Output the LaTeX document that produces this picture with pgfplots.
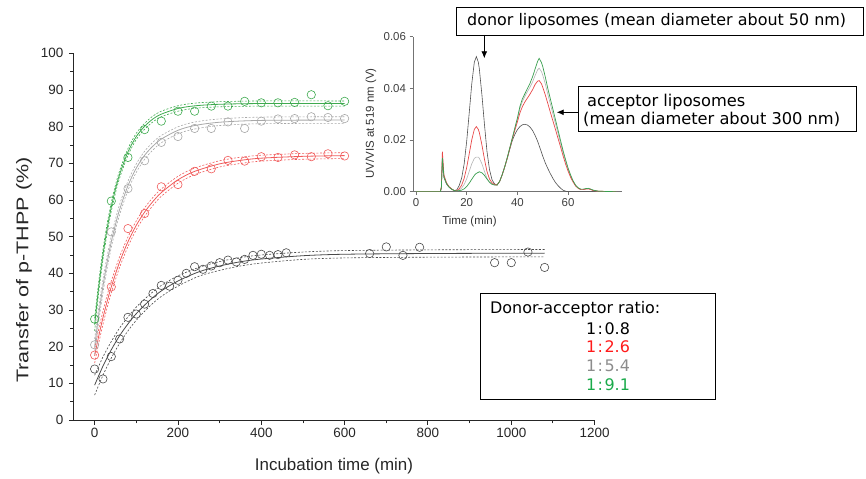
\documentclass[border=0pt]{standalone}
\usepackage{fontspec}
\setmainfont{Liberation Sans}
\newfontfamily\verd{DejaVu Sans}
\usepackage{pgfplots}
\pgfplotsset{compat=1.18}
\usepackage{pgfplotstable}
\usetikzlibrary{arrows.meta}

\definecolor{cbk}{HTML}{4A4A4A}
\definecolor{crd}{HTML}{F05A5A}
\definecolor{cgy}{HTML}{A8A8A8}
\definecolor{cgn}{HTML}{3DAA4E}
\definecolor{ibk}{HTML}{505050}
\definecolor{ird}{HTML}{E84848}
\definecolor{igy}{HTML}{B4B4B4}
\definecolor{ign}{HTML}{3A9F50}
\definecolor{lrd}{HTML}{FF1A1A}
\definecolor{lgy}{HTML}{8C8C8C}
\definecolor{lgn}{HTML}{1AAA4A}

% measured points
\pgfplotstableread{
t y
0 13.9
20 11.2
40 17.3
60 22.1
80 28.0
100 28.9
120 31.6
140 34.5
160 36.7
180 36.5
200 38.1
220 40.0
240 41.8
260 41.1
280 42.0
300 42.9
320 43.6
340 43.1
360 43.8
380 44.9
400 45.2
420 44.9
440 45.1
460 45.6
660 45.4
700 47.2
740 44.9
780 47.1
960 42.9
1000 42.9
1040 45.8
1080 41.6
}\bkdata
\pgfplotstableread{
t y
0 17.7
40 36.3
80 52.2
120 56.3
160 63.6
200 64.2
240 67.8
280 68.5
320 70.8
360 70.6
400 71.8
440 71.6
480 72.3
520 71.8
560 72.6
600 72.0
}\rddata
\pgfplotstableread{
t y
0 20.5
40 51.3
80 63.1
120 70.7
160 75.7
200 77.3
240 79.5
280 79.5
320 81.3
360 79.5
400 81.5
440 82.1
480 82.2
520 82.7
560 82.5
600 82.2
}\gydata
\pgfplotstableread{
t y
0 27.5
40 59.7
80 71.6
120 79.2
160 81.5
200 84.2
240 84.2
280 85.6
320 85.6
360 86.9
400 86.5
440 86.5
480 86.6
520 88.7
560 85.7
600 86.9
}\gndata

% fitted curves with confidence band
\pgfplotstableread{
t fit lo hi
0 9.5 6.8 12.2
20 14.7 12.2 17.2
40 19.15 16.9 21.4
60 23.0 20.9 25.1
80 26.2 24.3 28.1
100 29.0 27.2 30.8
130 32.4 30.8 34.0
160 35.2 33.7 36.7
200 37.9 36.5 39.3
250 40.4 39.2 41.6
300 42.0 40.8 43.2
350 43.15 42.0 44.3
400 43.9 42.8 45.0
500 44.8 43.8 45.8
600 45.2 44.2 46.2
800 45.4 44.4 46.4
1080 45.5 44.5 46.5
}\bkfit
\pgfplotstableread{
t fit lo hi
0 17.5 15.5 19.5
10 22.95 21.05 24.85
20 27.9 26.1 29.7
30 32.3 30.6 34.0
40 36.3 34.7 37.9
60 43.1 41.65 44.55
80 48.6 47.3 49.9
100 53.1 51.9 54.3
120 56.7 55.55 57.85
140 59.6 58.5 60.7
160 62.0 61.0 63.0
200 65.5 64.55 66.45
240 67.8 66.9 68.7
300 69.85 69.0 70.7
350 70.8 69.95 71.65
400 71.4 70.6 72.2
500 71.9 71.1 72.7
600 72.1 71.3 72.9
}\rdfit
\pgfplotstableread{
t fit lo hi
0 20.0 17.9 22.1
10 28.9 27.0 30.8
20 36.5 34.7 38.3
30 43.0 41.35 44.65
40 48.6 47.05 50.15
50 53.3 51.85 54.75
60 57.4 56.0 58.8
80 63.9 62.65 65.15
100 68.7 67.55 69.85
120 72.2 71.1 73.3
140 74.7 73.65 75.75
160 76.6 75.6 77.6
200 79.0 78.05 79.95
240 80.3 79.35 81.25
300 81.2 80.3 82.1
400 81.7 80.8 82.6
600 81.8 80.9 82.7
}\gyfit
\pgfplotstableread{
t fit lo hi
0 26.0 24.3 27.7
10 36.4 34.9 37.9
20 45.1 43.7 46.5
30 52.2 50.9 53.5
40 58.1 56.9 59.3
50 63.0 61.9 64.1
60 67.0 66.0 68.0
80 73.1 72.2 74.0
100 77.3 76.5 78.2
120 80.1 79.3 80.9
140 82.1 81.3 82.9
160 83.4 82.7 84.2
200 84.95 84.2 85.7
240 85.67 85.0 86.4
300 86.1 85.4 86.8
400 86.3 85.6 87.0
600 86.3 85.6 87.0
}\gnfit

% chromatograms (inset)
\pgfplotstableread{
x bk rd gy gn
0 0 0 0 0
9.6 0 0 0 0
10 0.0015 0.0020 0.0018 0.0016
10.4 0.0120 0.0155 0.0140 0.0130
11 0.0055 0.0065 0.0060 0.0058
12 0.0030 0.0035 0.0033 0.0032
13 0.0018 0.0020 0.0019 0.0018
14 0.0010 0.0011 0.0010 0.0010
15 0.0005 0.0005 0.0005 0.0005
16 0.0006 0.0004 0.0003 0.0003
17 0.0023 0.0011 0.0006 0.0004
18 0.0052 0.0025 0.0014 0.0006
19 0.0108 0.0052 0.0028 0.0011
20 0.0196 0.0094 0.0050 0.0020
21 0.0306 0.0147 0.0079 0.0033
22 0.0418 0.0201 0.0108 0.0048
23 0.0501 0.0241 0.0129 0.0063
23.8 0.0523 0.0252 0.0134 0.0071
24.6 0.0501 0.0241 0.0134 0.0075
25 0.0474 0.0228 0.0129 0.0077
26 0.0375 0.0181 0.0108 0.0073
27 0.0261 0.0126 0.0079 0.0063
28 0.0156 0.0078 0.0052 0.0049
29 0.0085 0.0049 0.0035 0.0037
30 0.0046 0.0034 0.0028 0.0029
31 0.0030 0.0028 0.0026 0.0026
32 0.0026 0.0026 0.0026 0.0026
33 0.0040 0.0040 0.0040 0.0040
34 0.0065 0.0065 0.0065 0.0066
35 0.0095 0.0096 0.0096 0.0097
36 0.0128 0.0130 0.0131 0.0132
37 0.0164 0.0168 0.0169 0.0170
38 0.0198 0.0205 0.0207 0.0208
39 0.0222 0.0238 0.0244 0.0247
40 0.0240 0.0270 0.0280 0.0285
41 0.0252 0.0305 0.0322 0.0330
42 0.0259 0.0330 0.0350 0.0360
43 0.0261 0.0348 0.0370 0.0380
44 0.0258 0.0363 0.0388 0.0400
45 0.0250 0.0378 0.0405 0.0420
46 0.0237 0.0395 0.0425 0.0445
47 0.0218 0.0415 0.0450 0.0475
48 0.0195 0.0428 0.0472 0.0505
48.6 0.0178 0.0430 0.0478 0.0516
49.5 0.0153 0.0418 0.0465 0.0500
50 0.0138 0.0405 0.0452 0.0485
51 0.0112 0.0375 0.0418 0.0445
52 0.0090 0.0342 0.0378 0.0400
53 0.0070 0.0308 0.0340 0.0360
54 0.0052 0.0275 0.0302 0.0320
55 0.0036 0.0242 0.0265 0.0280
56 0.0024 0.0208 0.0228 0.0240
57 0.0014 0.0175 0.0190 0.0200
58 0.0006 0.0140 0.0152 0.0160
59 0.0002 0.0108 0.0118 0.0125
60 0 0.0080 0.0087 0.0092
61 0 0.0056 0.0061 0.0065
62 0 0.0037 0.0040 0.0042
63 0 0.0022 0.0024 0.0025
64 0 0.0013 0.0014 0.0015
65 0 0.0008 0.0009 0.0010
66 0 0.0008 0.0009 0.0010
67 0 0.0010 0.0011 0.0012
68 0 0.0011 0.0012 0.0013
69 0 0.0008 0.0009 0.0010
70 0 0.0004 0.0005 0.0006
72 0 0.0002 0.0002 0.0002
75 0 0.0001 0.0001 0.0001
79 0 0 0 0
}\chrom

\newcommand\rat[2]{#1\kern1.5bp:\kern1.5bp#2}

\begin{document}
\begin{tikzpicture}
\path[use as bounding box] (0,0) rectangle (866bp,479bp);

\begin{axis}[
  at={(73.8bp,59bp)}, anchor=south west, scale only axis,
  width=520.8bp, height=366.7bp,
  xmin=-50, xmax=1200, ymin=0, ymax=100,
  axis lines=left, axis line style={-, line width=0.9bp, black!85},
  xtick={0,200,...,1200}, ytick={0,10,...,100},
  minor x tick num=1, minor y tick num=1,
  tick align=outside, major tick length=5bp, minor tick length=3.5bp,
  every tick/.style={line width=0.9bp, black!85},
  tick label style={font=\fontsize{13.5}{14}\selectfont, text=black!85},
  yticklabel style={xshift=-2bp},
  /pgf/number format/assume math mode=true,
  /pgf/number format/1000 sep={},
  xlabel={Incubation time (min)},
  ylabel={\scalebox{1.27}[1]{Transfer of p-THPP (\%)}},
  xlabel style={font=\fontsize{17}{17}\selectfont, text=black!85, at={(axis description cs:0.4996,-0.125)}, anchor=center},
  ylabel style={font=\fontsize{17}{17}\selectfont, text=black!85, at={(axis description cs:-0.0956,0.409)}, anchor=center},
  clip=false,
]
% black
\addplot[cbk, dash pattern=on 2bp off 1.6bp, line width=0.6bp, smooth] table[x=t,y=lo]{\bkfit};
\addplot[cbk, dash pattern=on 2bp off 1.6bp, line width=0.6bp, smooth] table[x=t,y=hi]{\bkfit};
\addplot[cbk, line width=0.8bp, smooth] table[x=t,y=fit]{\bkfit};
\addplot[cbk, only marks, mark=o, mark size=4.2, mark options={line width=0.6bp}] table[x=t,y=y]{\bkdata};
% red
\addplot[crd, dash pattern=on 2bp off 1.6bp, line width=0.6bp, smooth] table[x=t,y=lo]{\rdfit};
\addplot[crd, dash pattern=on 2bp off 1.6bp, line width=0.6bp, smooth] table[x=t,y=hi]{\rdfit};
\addplot[crd, line width=0.8bp, smooth] table[x=t,y=fit]{\rdfit};
\addplot[crd, only marks, mark=o, mark size=4.2, mark options={line width=0.6bp}] table[x=t,y=y]{\rddata};
% grey
\addplot[cgy, dash pattern=on 2bp off 1.6bp, line width=0.6bp, smooth] table[x=t,y=lo]{\gyfit};
\addplot[cgy, dash pattern=on 2bp off 1.6bp, line width=0.6bp, smooth] table[x=t,y=hi]{\gyfit};
\addplot[cgy, line width=0.8bp, smooth] table[x=t,y=fit]{\gyfit};
\addplot[cgy, only marks, mark=o, mark size=4.2, mark options={line width=0.6bp}] table[x=t,y=y]{\gydata};
% green
\addplot[cgn, dash pattern=on 2bp off 1.6bp, line width=0.6bp, smooth] table[x=t,y=lo]{\gnfit};
\addplot[cgn, dash pattern=on 2bp off 1.6bp, line width=0.6bp, smooth] table[x=t,y=hi]{\gnfit};
\addplot[cgn, line width=0.8bp, smooth] table[x=t,y=fit]{\gnfit};
\addplot[cgn, only marks, mark=o, mark size=4.2, mark options={line width=0.6bp}] table[x=t,y=y]{\gndata};
\end{axis}

\begin{axis}[
  at={(413bp,287.3bp)}, anchor=south west, scale only axis,
  width=209bp, height=155bp,
  xmin=-1.2, xmax=81.3, ymin=0, ymax=0.06,
  axis lines=left, axis line style={-, line width=0.6bp, black!55},
  xtick={0,20,40,60}, ytick={0,0.02,0.04,0.06},
  scaled y ticks=false,
  yticklabel style={/pgf/number format/.cd, fixed, fixed zerofill, precision=2},
  tick align=outside, major tick length=3.5bp,
  every tick/.style={line width=0.6bp, black!55},
  tick label style={font=\fontsize{11.5}{12}\selectfont, text=black!75},
  /pgf/number format/assume math mode=true,
  xlabel={Time (min)}, ylabel={UV/VIS at 519 nm (V)},
  xlabel style={font=\fontsize{11.5}{12}\selectfont, text=black!80, at={(axis description cs:0.27,-0.195)}, anchor=center},
  ylabel style={font=\fontsize{11.5}{12}\selectfont, text=black!80, at={(axis description cs:-0.201,0.44)}, anchor=center},
]
\addplot[ibk, line width=0.6bp] table[x=x,y=bk]{\chrom};
\addplot[igy, line width=0.6bp] table[x=x,y=gy]{\chrom};
\addplot[ird, line width=0.7bp] table[x=x,y=rd]{\chrom};
\addplot[ign, line width=0.7bp] table[x=x,y=gn]{\chrom};
\end{axis}

% annotation boxes
\draw[line width=0.9bp] (456.7bp,444bp) rectangle (863bp,471.7bp);
\node[anchor=west, inner sep=0pt, font=\verd\fontsize{16}{16}\selectfont] at (467bp,458bp) {donor liposomes (mean diameter about 50 nm)};
\draw[line width=0.9bp, -{Latex[length=7bp,width=6bp]}] (484.3bp,444bp) -- (484.3bp,420.7bp);

\draw[line width=0.9bp] (578.3bp,348bp) rectangle (856.7bp,392.3bp);
\node[anchor=west, inner sep=0pt, font=\verd\fontsize{16.3}{16}\selectfont] at (587bp,377.3bp) {acceptor liposomes};
\node[anchor=west, inner sep=0pt, font=\verd\fontsize{16.3}{16}\selectfont] at (583bp,360bp) {(mean diameter about 300 nm)};
\draw[line width=0.9bp, -{Latex[length=7bp,width=6bp]}] (578.3bp,366.7bp) -- (556.7bp,366.7bp);

% ratio legend
\draw[line width=1.2bp] (480.7bp,79.7bp) rectangle (715.7bp,185.7bp);
\node[anchor=west, inner sep=0pt, font=\verd\fontsize{16}{16}\selectfont] at (490bp,169.7bp) {Donor-acceptor ratio:};
\node[inner sep=0pt, font=\verd\fontsize{16}{16}\selectfont, text=black] at (608bp,150.7bp) {\rat{1}{0.8}};
\node[inner sep=0pt, font=\verd\fontsize{16}{16}\selectfont, text=lrd] at (608bp,132.3bp) {\rat{1}{2.6}};
\node[inner sep=0pt, font=\verd\fontsize{16}{16}\selectfont, text=lgy] at (608bp,113bp) {\rat{1}{5.4}};
\node[inner sep=0pt, font=\verd\fontsize{16}{16}\selectfont, text=lgn] at (608bp,94bp) {\rat{1}{9.1}};
\end{tikzpicture}
\end{document}
